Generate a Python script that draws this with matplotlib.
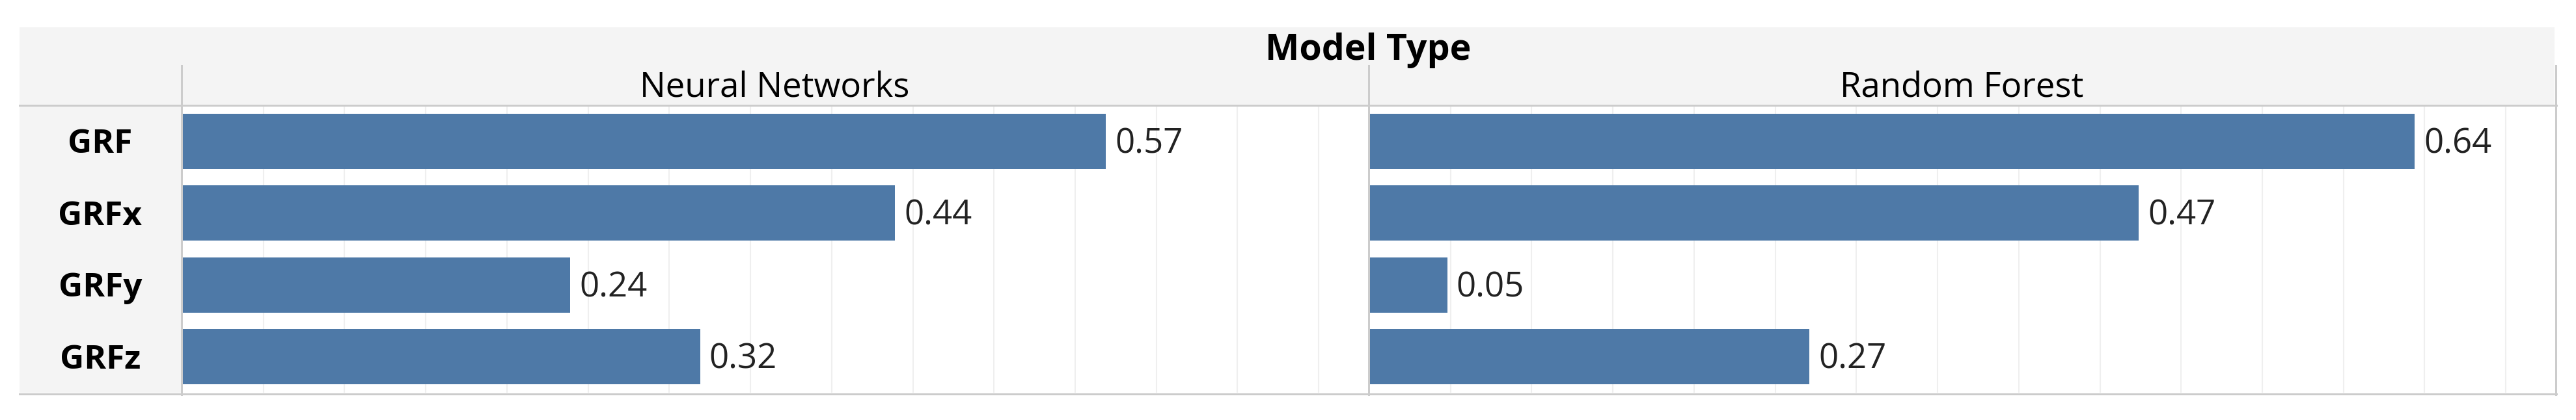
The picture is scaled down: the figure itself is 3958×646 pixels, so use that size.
import numpy as np
import matplotlib
matplotlib.use("Agg")
import matplotlib.pyplot as plt
from matplotlib.patches import Rectangle
from matplotlib.lines import Line2D

# data
metrics = ["GRF", "GRFx", "GRFy", "GRFz"]
models = ["Neural Networks", "Random Forest"]
nn_values = [0.569, 0.439, 0.239, 0.319]
rf_values = [0.644, 0.474, 0.048, 0.271]
header_title = "Model Type"

plt.rcParams["font.family"] = ["Open Sans", "DejaVu Sans"]

W, H = 3958, 646
fig = plt.figure(figsize=(W / 100, H / 100), dpi=100)
fig.patch.set_facecolor("white")

def fx(px):
    return px / W

def fy(py):
    return 1 - py / H

bar_color = "#4e79a7"
head_bg = "#f4f4f4"
line_col = "#cccccc"
grid_col = "#efefef"

# header + row label column backgrounds (behind everything)
fig.patches.append(Rectangle((fx(30), fy(161)), fx(3925) - fx(30), fy(42) - fy(161),
                             transform=fig.transFigure, facecolor=head_bg, edgecolor="none",
                             zorder=-1))
fig.patches.append(Rectangle((fx(30), fy(604)), fx(278) - fx(30), fy(161) - fy(604),
                             transform=fig.transFigure, facecolor=head_bg, edgecolor="none",
                             zorder=-1))

# panels
x_max = 0.73
panels = [(280, nn_values), (2104, rf_values)]
axes = []
for left, vals in panels:
    ax = fig.add_axes([fx(left), fy(604), 1821 / W, (604 - 162) / H])
    ax.barh(metrics, vals, height=0.77, color=bar_color, zorder=2)
    ax.set_xlim(0, x_max)
    ax.set_ylim(3.5, -0.5)
    ax.set_xticks(np.arange(0.05, x_max, 0.05))
    ax.grid(axis="x", color=grid_col, linewidth=1.5, zorder=0)
    ax.tick_params(length=0, labelbottom=False, labelleft=False)
    for s in ax.spines.values():
        s.set_visible(False)
    for i, v in enumerate(vals):
        ax.annotate(f"{v:.2f}", xy=(v, i), xytext=(10, -13), textcoords="offset points",
                    va="baseline", ha="left", fontsize=38, color="#222222")
    axes.append(ax)

# row labels (left of the first panel)
for i, m in enumerate(metrics):
    axes[0].annotate(m, xy=(fx(154), i), xycoords=(fig.transFigure, axes[0].transData),
                     xytext=(0, -13), textcoords="offset points", annotation_clip=False,
                     ha="center", va="baseline", fontsize=37, fontweight="bold", color="black")

# header texts
fig.text(fx(2102), fy(92), header_title, ha="center", va="baseline",
         fontsize=40, fontweight="bold", color="black")
fig.text(fx(1190), fy(150), models[0], ha="center", va="baseline", fontsize=38, color="black")
fig.text(fx(3014), fy(150), models[1], ha="center", va="baseline", fontsize=38, color="black")

# separator lines
lw = 3 * 0.72
fig.lines.append(Line2D([fx(30), fx(3928)], [fy(161.5), fy(161.5)], transform=fig.transFigure,
                        color=line_col, linewidth=lw))
fig.lines.append(Line2D([fx(30), fx(3928)], [fy(605.5), fy(605.5)], transform=fig.transFigure,
                        color=line_col, linewidth=lw))
for xs in [278.5, 2102.5, 3926.5]:
    fig.lines.append(Line2D([fx(xs), fx(xs)], [fy(101), fy(607)], transform=fig.transFigure,
                            color=line_col, linewidth=lw))

fig.savefig("out.png", dpi=100, facecolor="white")
